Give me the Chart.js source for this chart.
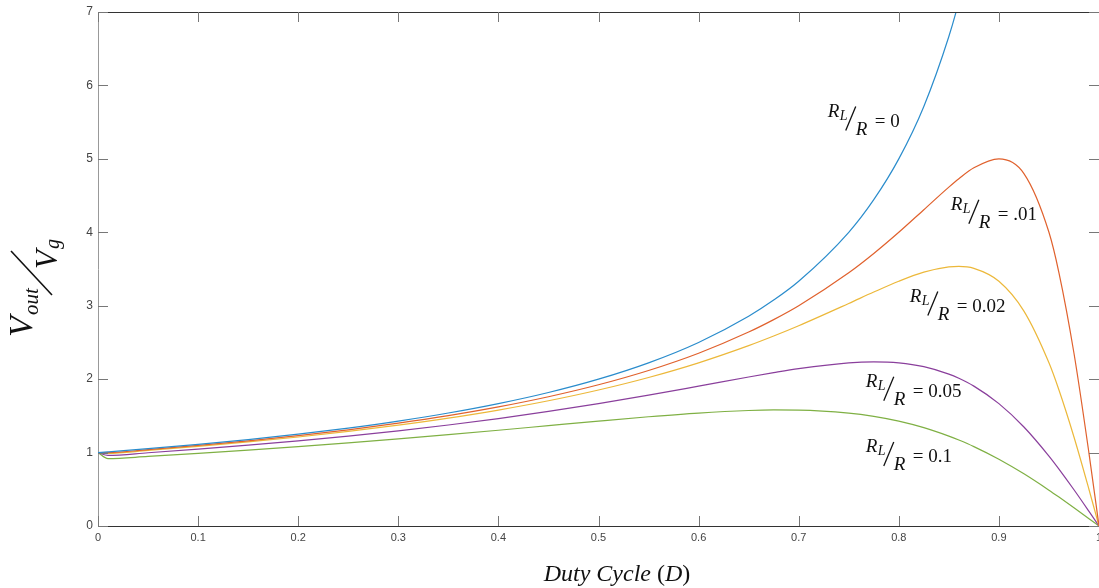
<!DOCTYPE html>
<html>
<head>
<meta charset="utf-8">
<script src="https://cdn.jsdelivr.net/npm/chart.js@4"></script>
<style>
  html, body { margin: 0; padding: 0; background: #fff; overflow: hidden; }
  #wrap { width: 1099px; height: 588px; position: relative; }
</style>
</head>
<body>
<div id="wrap"><canvas id="dutyChart"></canvas></div>
<script>
// duty cycle samples (x axis)
const duty = [0, 0.01, 0.05, 0.1, 0.15, 0.2, 0.25, 0.3, 0.35, 0.4, 0.45, 0.5, 0.55, 0.6, 0.65, 0.675,
              0.7, 0.75, 0.775, 0.8, 0.825, 0.85, 0.86, 0.875, 0.9, 0.925, 0.95, 0.96, 0.975, 0.99, 1];

// Vout/Vg, one list per RL/R
const gain0 = [1, 1.0101, 1.0526, 1.1111, 1.1765, 1.25, 1.3333, 1.4286, 1.5385, 1.6667, 1.8182, 2, 2.2222, 2.5, 2.8571, 3.0769,
               3.3333, 4, 4.4444, 5, 5.7143, 6.6667, 7.1429, 8, null, null, null, null, null, null, null];
const gain01 = [1, 1.0, 1.0411, 1.0976, 1.1604, 1.2308, 1.31, 1.4, 1.5029, 1.6216, 1.76, 1.9231, 2.1176, 2.3529, 2.6415, 2.8108,
                3.0, 3.4483, 3.7113, 4.0, 4.3077, 4.6154, 4.7297, 4.878, 5.0, 4.8, 4.0, 3.4483, 2.3529, 0.99, 0];
const gain02 = [1, 0.9899, 1.0298, 1.0843, 1.1448, 1.2121, 1.2876, 1.3725, 1.4689, 1.5789, 1.7054, 1.8519, 2.0225, 2.2222, 2.4561, 2.5871,
                2.7273, 3.0303, 3.1858, 3.3333, 3.4568, 3.5294, 3.5354, 3.5088, 3.3333, 2.9268, 2.2222, 1.8519, 1.2121, 0.4975, 0];
const gain05 = [1, 0.9611, 0.9974, 1.0465, 1.1003, 1.1594, 1.2245, 1.2963, 1.3757, 1.4634, 1.5603, 1.6667, 1.7822, 1.9048, 2.029, 2.0884,
                2.1429, 2.2222, 2.236, 2.2222, 2.1705, 2.069, 2.0115, 1.9048, 1.6667, 1.3483, 0.9524, 0.7752, 0.4938, 0.1996, 0];
const gain10 = [1, 0.9166, 0.9476, 0.989, 1.0334, 1.0811, 1.1321, 1.1864, 1.244, 1.3043, 1.3665, 1.4286, 1.4876, 1.5385, 1.573, 1.5805,
                1.5789, 1.5385, 1.4938, 1.4286, 1.3397, 1.2245, 1.1706, 1.0811, 0.9091, 0.7101, 0.4878, 0.3937, 0.2484, 0.0999, 0];

const ratioTexts = ['0', '.01', '0.02', '0.05', '0.1'];
// where each RL/R label sits, in data units (duty, gain)
const labelDuty = [0.729, 0.852, 0.811, 0.767, 0.767];
const labelGain = [5.44, 4.17, 2.92, 1.76, 0.87];

const xTicks = [0, 0.1, 0.2, 0.3, 0.4, 0.5, 0.6, 0.7, 0.8, 0.9, 1];
const yTicks = [0, 1, 2, 3, 4, 5, 6, 7];

const colors = ['#2a8ccc', '#e0612d', '#ecb83a', '#8a3f9c', '#7fb044'];
const series = [gain0, gain01, gain02, gain05, gain10];

const SERIF = '"Liberation Serif", "DejaVu Serif", serif';

function toPoints(vals) {
    return duty.map((d, i) => ({ x: d, y: vals[i] }));
}

/* рамка и внутренние засечки как в MATLAB */
const boxPlugin = {
    id: 'boxTicks',
    afterDraw(chart) {
        const { ctx, chartArea: a, scales: { x, y } } = chart;
        ctx.save();
        ctx.lineWidth = 1;
        ctx.strokeStyle = '#333';
        ctx.beginPath();
        ctx.moveTo(a.left, a.top + 0.5);
        ctx.lineTo(a.right, a.top + 0.5);
        ctx.stroke();

        ctx.strokeStyle = '#777';
        ctx.beginPath();
        xTicks.forEach(t => {
            const px = Math.round(x.getPixelForValue(t)) + 0.5;
            ctx.moveTo(px, a.bottom);
            ctx.lineTo(px, a.bottom - 10);
            ctx.moveTo(px, a.top);
            ctx.lineTo(px, a.top + 10);
        });
        yTicks.forEach(t => {
            const py = Math.round(y.getPixelForValue(t)) + 0.5;
            ctx.moveTo(a.left, py);
            ctx.lineTo(a.left + 10, py);
            ctx.moveTo(a.right, py);
            ctx.lineTo(a.right - 10, py);
        });
        ctx.stroke();
        ctx.restore();
    }
};

function drawRatioLabel(ctx, x0, base, value) {
    ctx.fillStyle = '#111';
    ctx.textAlign = 'left';
    ctx.textBaseline = 'alphabetic';
    ctx.font = 'italic 19px ' + SERIF;
    ctx.fillText('R', x0, base - 10);
    ctx.font = 'italic 14px ' + SERIF;
    ctx.fillText('L', x0 + 12, base - 7);
    ctx.strokeStyle = '#111';
    ctx.lineWidth = 1.3;
    ctx.beginPath();
    ctx.moveTo(x0 + 18, base + 4);
    ctx.lineTo(x0 + 28, base - 20);
    ctx.stroke();
    ctx.font = 'italic 19px ' + SERIF;
    ctx.fillText('R', x0 + 28, base + 8);
    ctx.font = '19px ' + SERIF;
    ctx.fillText('= ' + value, x0 + 47, base);
}

const textPlugin = {
    id: 'mathText',
    afterDraw(chart) {
        const { ctx, scales: { x, y } } = chart;
        ctx.save();
        ratioTexts.forEach((t, i) => {
            drawRatioLabel(ctx, x.getPixelForValue(labelDuty[i]), y.getPixelForValue(labelGain[i]), t);
        });

        // x axis title: Duty Cycle (D)
        const parts = [['italic 24px ', 'Duty Cycle '], ['24px ', '('], ['italic 24px ', 'D'], ['24px ', ')']];
        let total = 0;
        parts.forEach(p => { ctx.font = p[0] + SERIF; total += ctx.measureText(p[1]).width; });
        let cx = 617 - total / 2;
        ctx.fillStyle = '#111';
        parts.forEach(p => {
            ctx.font = p[0] + SERIF;
            ctx.fillText(p[1], cx, 581);
            cx += ctx.measureText(p[1]).width;
        });

        // y axis title: Vout / Vg (rotated)
        ctx.translate(32, 337);
        ctx.rotate(-Math.PI / 2);
        ctx.font = 'italic 34px ' + SERIF;
        ctx.fillText('V', 0, 0);
        ctx.font = 'italic 21px ' + SERIF;
        ctx.fillText('out', 22, 6);
        ctx.strokeStyle = '#111';
        ctx.lineWidth = 1.6;
        ctx.beginPath();
        ctx.moveTo(42, 20);
        ctx.lineTo(86, -21);
        ctx.stroke();
        ctx.font = 'italic 31px ' + SERIF;
        ctx.fillText('V', 68, 25);
        ctx.font = 'italic 20px ' + SERIF;
        ctx.fillText('g', 88, 27);
        ctx.restore();
    }
};

const ctx = document.getElementById('dutyChart').getContext('2d');

const dutyChart = new Chart(ctx, {
    type: 'line',
    data: {
        datasets: series.map((s, i) => ({
            label: 'RL/R = ' + ratioTexts[i],
            data: toPoints(s),
            borderColor: colors[i],
            borderWidth: 1.2,
            pointRadius: 0,
            fill: false,
            spanGaps: false,
            cubicInterpolationMode: 'monotone'
        }))
    },
    options: {
        responsive: true,
        maintainAspectRatio: false,
        animation: false,
        layout: { padding: { top: 12, right: 0, left: 0, bottom: 0 } },
        plugins: {
            legend: { display: false },
            tooltip: { enabled: false }
        },
        scales: {
            x: {
                type: 'linear',
                min: 0,
                max: 1,
                afterBuildTicks: (scale) => { scale.ticks = xTicks.map(v => ({ value: v })); },
                ticks: {
                    color: '#444',
                    padding: 5,
                    maxRotation: 0,
                    font: { family: '"Liberation Sans", Arial, sans-serif', size: 11 },
                    callback: (v) => String(Math.round(v * 10) / 10)
                },
                grid: { drawOnChartArea: false, drawTicks: false },
                border: { display: true, color: '#333', width: 1 },
                afterFit: (scale) => {
                    scale.height = 62;
                    scale.paddingLeft = 0;
                    scale.paddingRight = 0;
                }
            },
            y: {
                min: 0,
                max: 7,
                afterBuildTicks: (scale) => { scale.ticks = yTicks.map(v => ({ value: v })); },
                ticks: {
                    color: '#444',
                    padding: 5,
                    font: { family: '"Liberation Sans", Arial, sans-serif', size: 12 }
                },
                grid: { drawOnChartArea: false, drawTicks: false },
                border: { display: true, color: '#999', width: 1 },
                afterFit: (scale) => {
                    scale.width = 98;
                    scale.paddingTop = 0;
                    scale.paddingBottom = 0;
                }
            }
        }
    },
    plugins: [boxPlugin, textPlugin]
});
</script>
</body>
</html>
